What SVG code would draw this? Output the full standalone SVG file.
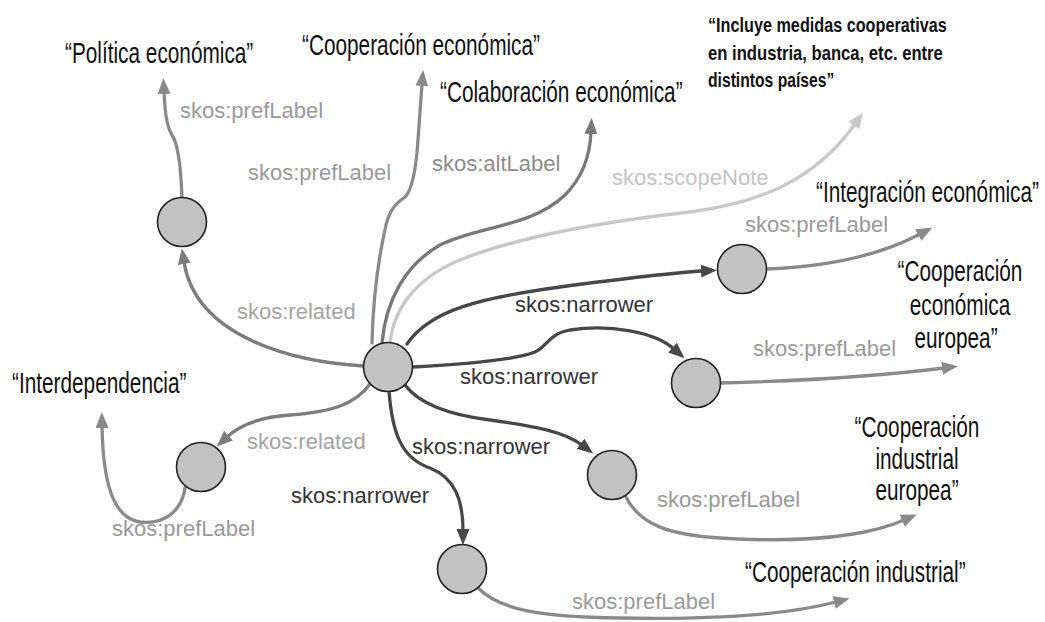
<svg xmlns="http://www.w3.org/2000/svg" width="1045" height="622" viewBox="0 0 1045 622">
  <style>
    .res { fill: #c2c2c2; stroke: #222; stroke-width: 1.6; }
    .edge { fill: none; stroke-width: 3.3; stroke-linecap: round; }
    .pref { stroke: #8a8a8a; }
    .rel { stroke: #7c7c7c; }
    .alt { stroke: #787878; }
    .note { stroke: #c8c8c8; }
    .narrow { stroke: #474747; }
    .lbl { font-family: "Liberation Sans", Arial, sans-serif; font-size: 22px; }
    .lpref { fill: #999; }
    .lrel { fill: #a3a3a3; }
    .lalt { fill: #8c8c8c; }
    .lnote { fill: #c4c4c4; }
    .lnarrow { fill: #333; }
    .lit { font-family: "Liberation Sans", Arial, sans-serif; font-size: 29px; fill: #111; }
    .mid { text-anchor: middle; }
    .note-text { font-family: "Liberation Sans", Arial, sans-serif; font-size: 21px; font-weight: bold; fill: #111; }
  </style>
  <defs>
    <marker id="ah-pref" viewBox="0 0 16 13" refX="2" refY="6.5" markerWidth="16" markerHeight="13" markerUnits="userSpaceOnUse" orient="auto">
      <path d="M0,0 L16,6.5 L0,13 z" fill="#8a8a8a"/>
    </marker>
    <marker id="ah-rel" viewBox="0 0 16 13" refX="2" refY="6.5" markerWidth="16" markerHeight="13" markerUnits="userSpaceOnUse" orient="auto">
      <path d="M0,0 L16,6.5 L0,13 z" fill="#7c7c7c"/>
    </marker>
    <marker id="ah-alt" viewBox="0 0 16 13" refX="2" refY="6.5" markerWidth="16" markerHeight="13" markerUnits="userSpaceOnUse" orient="auto">
      <path d="M0,0 L16,6.5 L0,13 z" fill="#787878"/>
    </marker>
    <marker id="ah-note" viewBox="0 0 16 13" refX="2" refY="6.5" markerWidth="16" markerHeight="13" markerUnits="userSpaceOnUse" orient="auto">
      <path d="M0,0 L16,6.5 L0,13 z" fill="#c8c8c8"/>
    </marker>
    <marker id="ah-narrow" viewBox="0 0 16 13" refX="2" refY="6.5" markerWidth="16" markerHeight="13" markerUnits="userSpaceOnUse" orient="auto">
      <path d="M0,0 L16,6.5 L0,13 z" fill="#474747"/>
    </marker>
  </defs>

  <rect width="1045" height="622" fill="#fff"/>

  <!-- connectors and their property labels -->
  <g id="connectors">
    <!-- scope note (drawn first, lightest) -->
    <path class="edge note" marker-end="url(#ah-note)" d="M390,343 C394,305 420,275 465,258 C520,237 600,222 690,212 C760,203 815,180 855,124"/>
    <text class="lbl lnote" x="612" y="185">skos:scopeNote</text>

    <!-- related -->
    <path class="edge rel" marker-end="url(#ah-rel)" d="M364,366 C295,362 196,338 184,262"/>
    <text class="lbl lrel" x="237" y="319">skos:related</text>
    <path class="edge rel" marker-end="url(#ah-rel)" d="M370,384 C355,405 330,412 290,415 C260,417 240,425 227,437"/>
    <text class="lbl lrel" x="247" y="449">skos:related</text>

    <!-- preferred / alternative labels of the central concept -->
    <path class="edge pref" marker-end="url(#ah-pref)" d="M372,343 C373,300 378,260 386,225 C390,208 398,202 405,197 C412,190 416,170 418,140 C420,110 421,97 422,84"/>
    <text class="lbl lpref" x="248" y="180">skos:prefLabel</text>
    <path class="edge alt" marker-end="url(#ah-alt)" d="M382,343 C386,300 405,265 440,245 C480,225 530,228 565,195 C582,178 590,155 591,132"/>
    <text class="lbl lalt" x="432" y="171">skos:altLabel</text>

    <!-- narrower -->
    <path class="edge narrow" marker-end="url(#ah-narrow)" d="M407,344 C430,310 480,298 560,287 C620,279 670,273 703,271"/>
    <text class="lbl lnarrow" x="515" y="312">skos:narrower</text>
    <path class="edge narrow" marker-end="url(#ah-narrow)" d="M413,367 C470,364 515,360 535,352 C548,346 548,334 570,330 C610,324 655,332 674,349"/>
    <text class="lbl lnarrow" x="460" y="384">skos:narrower</text>
    <path class="edge narrow" marker-end="url(#ah-narrow)" d="M405,385 C420,405 450,415 490,420 C535,426 565,432 582,445"/>
    <text class="lbl lnarrow" x="412" y="454">skos:narrower</text>
    <path class="edge narrow" marker-end="url(#ah-narrow)" d="M389,391 C392,430 400,458 430,468 C455,478 463,500 463,531"/>
    <text class="lbl lnarrow" x="291" y="503">skos:narrower</text>

    <!-- preferred labels of the surrounding concepts -->
    <path class="edge pref" marker-end="url(#ah-pref)" d="M182,198 C181,170 179,145 172,135 C166,125 165,110 164,92"/>
    <text class="lbl lpref" x="180" y="118">skos:prefLabel</text>
    <path class="edge pref" marker-end="url(#ah-pref)" d="M185,488 C182,510 165,525 140,522 C112,518 103,480 102,426"/>
    <text class="lbl lpref" x="112" y="536">skos:prefLabel</text>
    <path class="edge pref" marker-end="url(#ah-pref)" d="M766,269 C820,267 875,258 920,234"/>
    <text class="lbl lpref" x="745" y="232">skos:prefLabel</text>
    <path class="edge pref" marker-end="url(#ah-pref)" d="M720,383 C800,381 880,376 944,368"/>
    <text class="lbl lpref" x="753" y="356">skos:prefLabel</text>
    <path class="edge pref" marker-end="url(#ah-pref)" d="M626,497 C640,525 670,535 720,538 C800,543 865,537 904,520"/>
    <text class="lbl lpref" x="657" y="507">skos:prefLabel</text>
    <path class="edge pref" marker-end="url(#ah-pref)" d="M478,588 C500,610 540,617 620,618 C720,620 790,614 836,602"/>
    <text class="lbl lpref" x="572" y="609">skos:prefLabel</text>
  </g>

  <!-- concept nodes -->
  <g id="concept-central"><circle class="res" cx="388" cy="367" r="24.5"/></g>
  <g id="concept-politica"><circle class="res" cx="182" cy="222" r="24.5"/></g>
  <g id="concept-interdependencia"><circle class="res" cx="201" cy="467" r="24.5"/></g>
  <g id="concept-integracion"><circle class="res" cx="742" cy="269" r="24.5"/></g>
  <g id="concept-coop-eco-europea"><circle class="res" cx="696" cy="383" r="24.5"/></g>
  <g id="concept-coop-ind-europea"><circle class="res" cx="612" cy="475" r="24.5"/></g>
  <g id="concept-coop-industrial"><circle class="res" cx="462" cy="569" r="24.5"/></g>

  <!-- literal values (narrow lettering: horizontally condensed sans) -->
  <g id="lit-politica"><text class="lit" transform="translate(65,63) scale(0.717,1)">“Política económica”</text></g>
  <g id="lit-coop-economica"><text class="lit" transform="translate(302,55) scale(0.717,1)">“Cooperación económica”</text></g>
  <g id="lit-colaboracion"><text class="lit" transform="translate(440,102) scale(0.717,1)">“Colaboración económica”</text></g>
  <g id="lit-scope-note">
    <text class="note-text" transform="translate(708,32) scale(0.77,1)" textLength="310" lengthAdjust="spacingAndGlyphs">“Incluye medidas cooperativas</text>
    <text class="note-text" transform="translate(708,60) scale(0.77,1)" textLength="305" lengthAdjust="spacingAndGlyphs">en industria, banca, etc. entre</text>
    <text class="note-text" transform="translate(708,87) scale(0.77,1)" textLength="164" lengthAdjust="spacingAndGlyphs">distintos países”</text>
  </g>
  <g id="lit-integracion"><text class="lit" transform="translate(816,202) scale(0.717,1)">“Integración económica”</text></g>
  <g id="lit-coop-eco-europea">
    <text class="lit mid" transform="translate(960,281) scale(0.717,1)">“Cooperación</text>
    <text class="lit mid" transform="translate(960,315) scale(0.717,1)">económica</text>
    <text class="lit mid" transform="translate(956,348) scale(0.717,1)">europea”</text>
  </g>
  <g id="lit-coop-ind-europea">
    <text class="lit mid" transform="translate(917,437) scale(0.717,1)">“Cooperación</text>
    <text class="lit mid" transform="translate(917,469) scale(0.717,1)">industrial</text>
    <text class="lit mid" transform="translate(917,500) scale(0.717,1)">europea”</text>
  </g>
  <g id="lit-coop-industrial"><text class="lit" transform="translate(745,582) scale(0.717,1)">“Cooperación industrial”</text></g>
  <g id="lit-interdependencia"><text class="lit" transform="translate(12,393) scale(0.717,1)">“Interdependencia”</text></g>
</svg>
